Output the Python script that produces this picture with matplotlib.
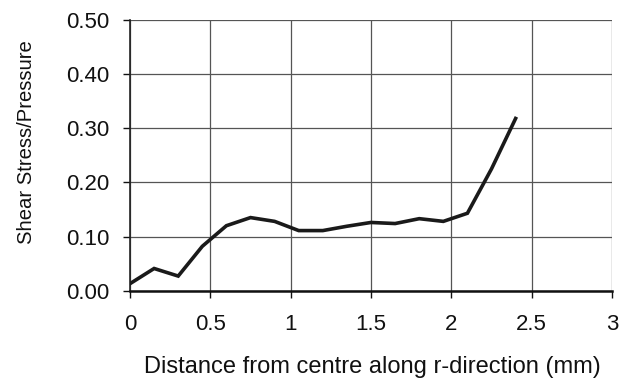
import matplotlib
matplotlib.use("Agg")
import matplotlib.pyplot as plt

plt.rcParams['font.family'] = ['Liberation Sans', 'DejaVu Sans']

distance_mm = [0.0, 0.15, 0.30, 0.45, 0.60, 0.75, 0.90, 1.05, 1.20, 1.35,
               1.50, 1.65, 1.80, 1.95, 2.10, 2.25, 2.40]
shear_ratio = [0.013, 0.041, 0.027, 0.082, 0.120, 0.135, 0.128, 0.111, 0.111, 0.119,
               0.126, 0.124, 0.133, 0.128, 0.143, 0.225, 0.318]
x_ticks = [0, 0.5, 1, 1.5, 2, 2.5, 3]
x_tick_labels = ["0", "0.5", "1", "1.5", "2", "2.5", "3"]
y_ticks = [0.0, 0.1, 0.2, 0.3, 0.4, 0.5]
y_tick_labels = ["0.00", "0.10", "0.20", "0.30", "0.40", "0.50"]

fig = plt.figure(figsize=(6.29, 3.83), dpi=100)
ax = fig.add_axes([0.2067, 0.241, 0.7663, 0.707])

ax.plot(distance_mm, shear_ratio, color='#1a1a1a', linewidth=2.6, solid_joinstyle='miter', zorder=3)

ax.set_xlim(0, 3)
ax.set_ylim(0, 0.5)
ax.set_xticks(x_ticks)
ax.set_xticklabels(x_tick_labels)
ax.set_yticks(y_ticks)
ax.set_yticklabels(y_tick_labels)

ax.grid(True, color='#555555', linewidth=0.9)
ax.set_axisbelow(True)

for s in ['top', 'right']:
    ax.spines[s].set_visible(False)
ax.spines['left'].set_color('#222222')
ax.spines['left'].set_linewidth(1.2)
ax.spines['bottom'].set_color('#111111')
ax.spines['bottom'].set_linewidth(1.8)

ax.tick_params(axis='x', direction='out', length=5, width=1, pad=12, labelsize=16, colors='#111111')
ax.tick_params(axis='y', direction='out', length=5, width=1, pad=10, labelsize=16, colors='#111111')

ax.set_xlabel("Distance from centre along r-direction (mm)", fontsize=17, color='#111111')
ax.xaxis.set_label_coords(0.503, -0.243)
ax.set_ylabel("Shear Stress/Pressure", fontsize=14.6, color='#111111')
ax.yaxis.set_label_coords(-0.195, 0.549)

fig.savefig("out.png", dpi=100)
